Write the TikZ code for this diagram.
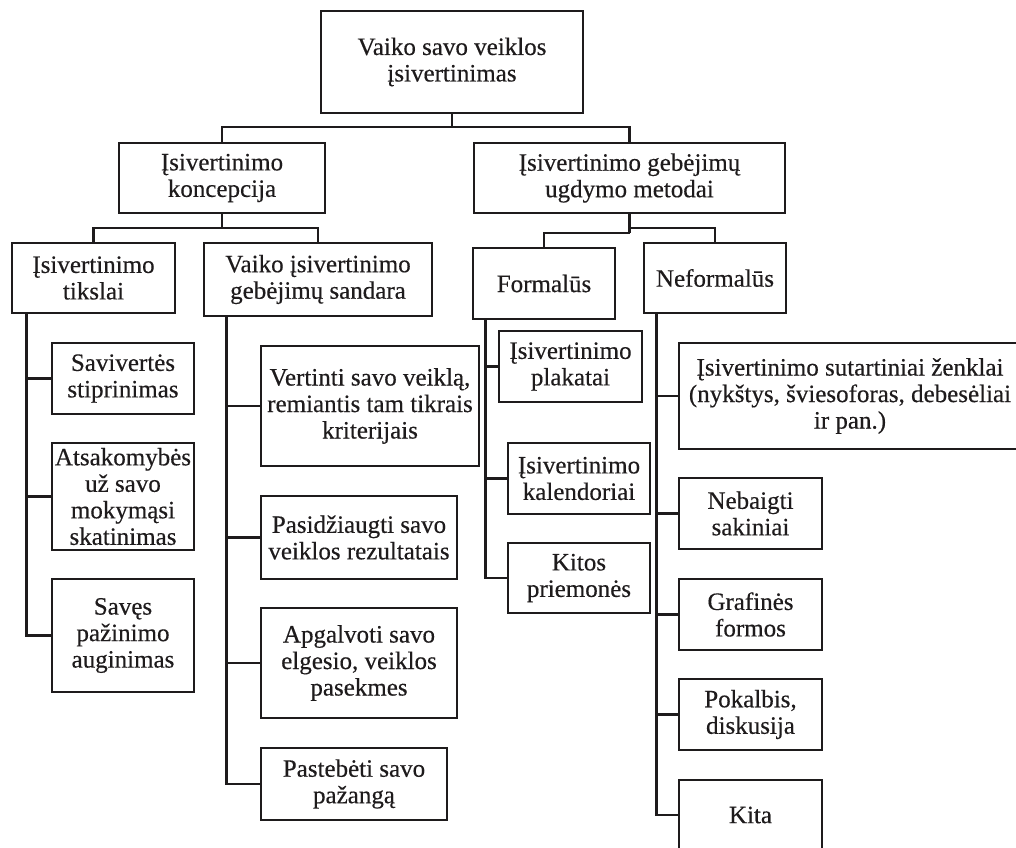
\documentclass[tikz,border=0pt]{standalone}
\usepackage{fontspec}
\setmainfont{Liberation Serif}[FakeBold=0.4]
\definecolor{ink}{HTML}{1E1B1C}
\begin{document}
\begin{tikzpicture}[x=1pt,y=-1pt,
  box/.style={draw=ink, line width=2.6pt, inner sep=0pt, align=center,
    text=ink, font=\fontsize{25}{26.5}\selectfont},
  link/.style={draw=ink, line width=2.6pt}]
\useasboundingbox (0,0) rectangle (1016,847);
\clip (0,0) rectangle (1016,847);
% level 0
\node[box, minimum width=262pt, minimum height=102pt] (root) at (452,62) {Vaiko savo veiklos\\įsivertinimas};
% level 1
\node[box, minimum width=206pt, minimum height=70pt] (konc) at (222,178) {Įsivertinimo\\koncepcija};
\node[box, minimum width=311pt, minimum height=70pt] (metod) at (629.5,178) {Įsivertinimo gebėjimų\\ugdymo metodai};
% level 2
\node[box, minimum width=163pt, minimum height=70pt] (tiks) at (93.5,278) {Įsivertinimo\\tikslai};
\node[box, minimum width=228pt, minimum height=73pt] (sand) at (318,279.5) {Vaiko įsivertinimo\\gebėjimų sandara};
\node[box, minimum width=142pt, minimum height=71pt] (form) at (544,283.5) {Formalūs};
\node[box, minimum width=142pt, minimum height=70pt] (neform) at (715,278) {Neformalūs};
% tikslai children
\node[box, minimum width=142pt, minimum height=71pt] (saviv) at (123,378.5) {Savivertės\\stiprinimas};
\node[box, minimum width=142pt, minimum height=107pt] (atsak) at (123,496.5) {Atsakomybės\\už savo\\mokymąsi\\skatinimas};
\node[box, minimum width=142pt, minimum height=113pt] (saves) at (123,635.5) {Savęs\\pažinimo\\auginimas};
% sandara children
\node[box, minimum width=218pt, minimum height=120pt] (vert) at (370,406) {Vertinti savo veiklą,\\remiantis tam tikrais\\kriterijais};
\node[box, minimum width=196pt, minimum height=83pt] (pasid) at (359,537.5) {Pasidžiaugti savo\\veiklos rezultatais};
\node[box, minimum width=196pt, minimum height=110pt] (apgal) at (359,663) {Apgalvoti savo\\elgesio, veiklos\\pasekmes};
\node[box, minimum width=186pt, minimum height=72pt] (paste) at (354,784) {Pastebėti savo\\pažangą};
% formalus children
\node[box, minimum width=143pt, minimum height=71pt] (plak) at (570.5,366.5) {Įsivertinimo\\plakatai};
\node[box, minimum width=142pt, minimum height=71pt] (kal) at (579,478.5) {Įsivertinimo\\kalendoriai};
\node[box, minimum width=142pt, minimum height=70pt] (kitos) at (579,578) {Kitos\\priemonės};
% neformalus children
\node[box, minimum width=342pt, minimum height=106pt] (zenk) at (850,396) {Įsivertinimo sutartiniai ženklai\\(nykštys, šviesoforas, debesėliai\\ir pan.)};
\node[box, minimum width=143pt, minimum height=71pt] (neb) at (750.5,513.5) {Nebaigti\\sakiniai};
\node[box, minimum width=143pt, minimum height=71pt] (graf) at (750.5,614.5) {Grafinės\\formos};
\node[box, minimum width=143pt, minimum height=71pt] (pok) at (750.5,714.5) {Pokalbis,\\diskusija};
\node[box, minimum width=143pt, minimum height=70pt] (kita) at (750.5,815) {Kita};
% connectors level 0 -> 1
\coordinate (j0) at (452,127);
\draw[link] (root.south) -- (j0);
\draw[link] (konc.north) |- (j0) -| (metod.north);
% konc -> level 2
\coordinate (j1) at (222,228);
\draw[link] (konc.south) -- (j1);
\draw[link] (tiks.north) |- (j1) -| (sand.north);
% metod -> formal / neformal
\coordinate (j2) at (629.5,228);
\coordinate (j3) at (629.5,233);
\draw[link] (metod.south) -- (j3);
\draw[link] (j2) -| (neform.north);
\draw[link] (j3) -| (form.north);
% tikslai trunk
\draw[link] ([xshift=16pt]tiks.south west) |- (saviv.west);
\draw[link] ([xshift=16pt]tiks.south west) |- (atsak.west);
\draw[link] ([xshift=16pt]tiks.south west) |- (saves.west);
% sandara trunk
\draw[link] ([xshift=24pt]sand.south west) |- (vert.west);
\draw[link] ([xshift=24pt]sand.south west) |- (pasid.west);
\draw[link] ([xshift=24pt]sand.south west) |- (apgal.west);
\draw[link] ([xshift=24pt]sand.south west) |- (paste.west);
% formalus trunk
\draw[link] ([xshift=14pt]form.south west) |- (plak.west);
\draw[link] ([xshift=14pt]form.south west) |- (kal.west);
\draw[link] ([xshift=14pt]form.south west) |- (kitos.west);
% neformalus trunk
\draw[link] ([xshift=14pt]neform.south west) |- (zenk.west);
\draw[link] ([xshift=14pt]neform.south west) |- (neb.west);
\draw[link] ([xshift=14pt]neform.south west) |- (graf.west);
\draw[link] ([xshift=14pt]neform.south west) |- (pok.west);
\draw[link] ([xshift=14pt]neform.south west) |- (kita.west);
\end{tikzpicture}
\end{document}
